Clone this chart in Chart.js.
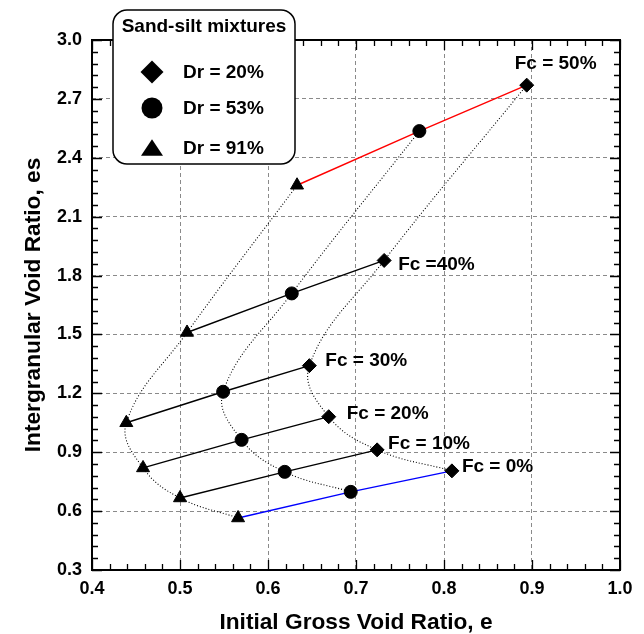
<!DOCTYPE html>
<html>
<head>
<meta charset="utf-8">
<script src="https://cdn.jsdelivr.net/npm/chart.js@4.4.0/dist/chart.umd.min.js"></script>
<style>
  html, body { margin: 0; padding: 0; background: #fff; }
</style>
</head>
<body>
<canvas id="chart" width="644" height="634"></canvas>
<script>
// fines content, one entry per point along each curve
const fcValues = ['Fc = 0%', 'Fc = 10%', 'Fc = 20%', 'Fc = 30%', 'Fc =40%', 'Fc = 50%'];
const drNames = ['Dr = 20%', 'Dr = 53%', 'Dr = 91%'];

// Dr = 20% (diamonds)
const eDr20 = [0.809, 0.724, 0.669, 0.647, 0.732, 0.894];
const esDr20 = [0.805, 0.912, 1.081, 1.341, 1.877, 2.770];
// Dr = 53% (circles)
const eDr53 = [0.694, 0.619, 0.570, 0.549, 0.627, 0.772];
const esDr53 = [0.698, 0.800, 0.963, 1.208, 1.709, 2.536];
// Dr = 91% (triangles)
const eDr91 = [0.566, 0.500, 0.458, 0.439, 0.508, 0.633];
const esDr91 = [0.565, 0.667, 0.820, 1.050, 1.510, 2.260];

const xTicksMin = 0.4, xTicksMax = 1.0, xStep = 0.1, xMinor = 0.02;
const yTicksMin = 0.3, yTicksMax = 3.0, yStep = 0.3, yMinor = 0.06;

const FONT = '"Liberation Sans", Arial, Helvetica, sans-serif';

function pts(xs, ys) {
  return xs.map((x, i) => ({ x: x, y: ys[i] }));
}

// 라벨 위치 (다이아몬드 기준 픽셀 오프셋)
const labelOffsets = [[10, -4], [11, -6], [18, -3], [16, -5], [14, 4], [-12, -21]];

const markerSets = [
  { data: pts(eDr20, esDr20), style: 'rectRot', r: 7 },
  { data: pts(eDr53, esDr53), style: 'circle', r: 6.5 },
  { data: pts(eDr91, esDr91), style: 'triangle', r: 7.5 }
];

const datasets = [];

// markers first so they end up on top
markerSets.forEach(m => {
  datasets.push({
    data: m.data,
    showLine: false,
    pointStyle: m.style,
    pointRadius: m.r,
    pointBackgroundColor: '#000',
    pointBorderColor: '#000',
    pointBorderWidth: 1
  });
});

// solid lines joining the three densities at each Fc
fcValues.forEach((fc, i) => {
  let color = '#000';
  if (i === 0) color = '#0000ff';
  if (i === fcValues.length - 1) color = '#ff0000';
  datasets.push({
    data: [
      { x: eDr91[i], y: esDr91[i] },
      { x: eDr53[i], y: esDr53[i] },
      { x: eDr20[i], y: esDr20[i] }
    ],
    showLine: true,
    borderColor: color,
    borderWidth: 1.4,
    pointRadius: 0,
    tension: 0
  });
});

// dotted curves through each density
[pts(eDr20, esDr20), pts(eDr53, esDr53), pts(eDr91, esDr91)].forEach(d => {
  datasets.push({
    data: d,
    showLine: true,
    borderColor: '#000',
    borderWidth: 1.1,
    borderDash: [1, 2],
    pointRadius: 0,
    tension: 0.4
  });
});

function drawMarker(ctx, style, x, y, size) {
  ctx.beginPath();
  if (style === 'rectRot') {
    ctx.moveTo(x - size, y);
    ctx.lineTo(x, y - size);
    ctx.lineTo(x + size, y);
    ctx.lineTo(x, y + size);
    ctx.closePath();
  } else if (style === 'circle') {
    ctx.arc(x, y, size, 0, Math.PI * 2);
  } else {
    ctx.moveTo(x, y - size * 0.8);
    ctx.lineTo(x + size, y + size * 0.7);
    ctx.lineTo(x - size, y + size * 0.7);
    ctx.closePath();
  }
  ctx.fill();
}

// 테두리, 눈금, 축 제목, 범례, Fc 라벨
const decorPlugin = {
  id: 'decor',
  afterDraw(chart) {
    const { ctx, chartArea, scales } = chart;
    const { left, right, top, bottom } = chartArea;
    ctx.save();
    ctx.strokeStyle = '#000';
    ctx.fillStyle = '#000';

    // minor + major ticks, inward on all four sides
    ctx.lineWidth = 1.3;
    const nx = Math.round((xTicksMax - xTicksMin) / xMinor);
    for (let i = 0; i <= nx; i++) {
      const px = Math.round(scales.x.getPixelForValue(xTicksMin + i * xMinor)) + 0.5;
      const len = i % 5 === 0 ? 10 : 6;
      ctx.beginPath();
      ctx.moveTo(px, bottom); ctx.lineTo(px, bottom - len);
      ctx.moveTo(px, top); ctx.lineTo(px, top + len);
      ctx.stroke();
    }
    const ny = Math.round((yTicksMax - yTicksMin) / yMinor);
    for (let i = 0; i <= ny; i++) {
      const py = Math.round(scales.y.getPixelForValue(yTicksMin + i * yMinor)) + 0.5;
      const len = i % 5 === 0 ? 10 : 6;
      ctx.beginPath();
      ctx.moveTo(left, py); ctx.lineTo(left + len, py);
      ctx.moveTo(right, py); ctx.lineTo(right - len, py);
      ctx.stroke();
    }

    // frame
    ctx.lineWidth = 2;
    ctx.strokeRect(left, top, right - left, bottom - top);

    // axis titles
    ctx.font = 'bold 22.7px ' + FONT;
    ctx.textAlign = 'center';
    ctx.textBaseline = 'middle';
    ctx.fillText('Initial Gross Void Ratio, e', (left + right) / 2, 623);
    ctx.save();
    ctx.translate(34, (top + bottom) / 2);
    ctx.rotate(-Math.PI / 2);
    ctx.fillText('Intergranular Void Ratio, es', 0, 0);
    ctx.restore();

    // Fc labels beside the Dr = 20% points
    ctx.font = 'bold 19px ' + FONT;
    ctx.textAlign = 'left';
    fcValues.forEach((label, i) => {
      const px = scales.x.getPixelForValue(eDr20[i]);
      const py = scales.y.getPixelForValue(esDr20[i]);
      ctx.fillText(label, px + labelOffsets[i][0], py + labelOffsets[i][1]);
    });

    // legend box
    ctx.beginPath();
    ctx.roundRect(113, 10, 182, 154, 14);
    ctx.fillStyle = '#fff';
    ctx.fill();
    ctx.lineWidth = 1.5;
    ctx.stroke();
    ctx.fillStyle = '#000';
    ctx.textAlign = 'center';
    ctx.font = 'bold 19px ' + FONT;
    ctx.fillText('Sand-silt mixtures', 204, 27);
    const legendY = [72, 108, 148];
    const legendSize = [11.5, 10.5, 11];
    ctx.textAlign = 'left';
    drNames.forEach((name, i) => {
      drawMarker(ctx, markerSets[i].style, 152, legendY[i], legendSize[i]);
      ctx.fillText(name, 183, legendY[i] + 1);
    });

    ctx.restore();
  }
};

new Chart(document.getElementById('chart').getContext('2d'), {
  type: 'scatter',
  data: { datasets: datasets },
  options: {
    responsive: false,
    animation: false,
    layout: { padding: { top: 40, right: 24, left: 0, bottom: 0 } },
    plugins: {
      legend: { display: false },
      tooltip: { enabled: false }
    },
    scales: {
      x: {
        type: 'linear',
        min: xTicksMin,
        max: xTicksMax,
        afterFit(scale) { scale.height = 64; },
        ticks: {
          stepSize: xStep,
          padding: 8,
          color: '#000',
          font: { family: FONT, size: 18, weight: 'bold' },
          callback: v => v.toFixed(1)
        },
        grid: { color: '#8a8a8a', lineWidth: 1, drawTicks: false },
        border: { display: false, dash: [4, 3] }
      },
      y: {
        type: 'linear',
        min: yTicksMin,
        max: yTicksMax,
        afterFit(scale) { scale.width = 92; },
        ticks: {
          stepSize: yStep,
          padding: 10,
          color: '#000',
          font: { family: FONT, size: 18, weight: 'bold' },
          callback: v => v.toFixed(1)
        },
        grid: { color: '#8a8a8a', lineWidth: 1, drawTicks: false },
        border: { display: false, dash: [4, 3] }
      }
    }
  },
  plugins: [decorPlugin]
});
</script>
</body>
</html>
